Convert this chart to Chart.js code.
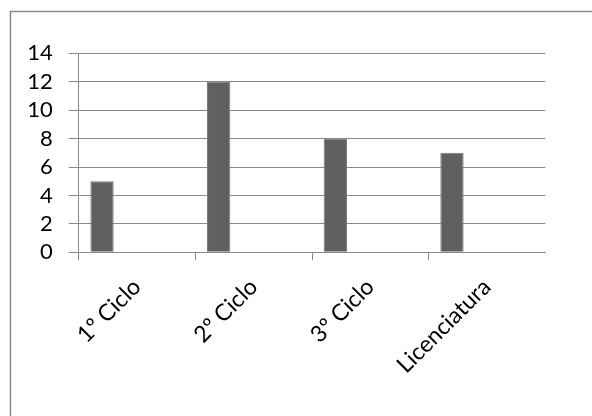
<!DOCTYPE html>
<html>
<head>
<meta charset="utf-8">
<script src="https://cdn.jsdelivr.net/npm/chart.js@4"></script>
<style>
  html, body { margin: 0; padding: 0; background: #fff; }
  #wrap { width: 592px; height: 416px; position: relative; }
</style>
</head>
<body>
<div id="wrap"><canvas id="c" width="592" height="416"></canvas></div>
<script>
const categories = ["1º Ciclo", "2º Ciclo", "3º Ciclo", "Licenciatura"];
const values = [5, 12, 8, 7];
const emptySeries1 = [];
const emptySeries2 = [];
const emptySeries3 = [];
const yMin = 0, yMax = 14, yStep = 2;

const FONT = "Lato";
const GRID = "#8a8a8a";

const framePlugin = {
  id: 'frame',
  afterDraw(chart) {
    const ctx = chart.ctx;
    ctx.save();
    ctx.strokeStyle = GRID;
    ctx.lineWidth = 1.5;
    ctx.beginPath();
    ctx.moveTo(10.5, 416);
    ctx.lineTo(10.5, 11.5);
    ctx.lineTo(592, 11.5);
    ctx.stroke();
    ctx.restore();
  }
};

new Chart(document.getElementById('c'), {
  type: 'bar',
  data: {
    labels: categories,
    datasets: [
      { data: values, backgroundColor: '#606060', borderColor: '#7a7a7a', borderWidth: 1 },
      { data: emptySeries1, backgroundColor: '#606060' },
      { data: emptySeries2, backgroundColor: '#606060' },
      { data: emptySeries3, backgroundColor: '#606060' }
    ]
  },
  options: {
    responsive: false,
    animation: false,
    devicePixelRatio: 1,
    layout: { padding: { left: 0, right: 46.7, top: 53.3, bottom: 0 } },
    datasets: { bar: { categoryPercentage: 0.8, barPercentage: 1.0 } },
    plugins: { legend: { display: false }, tooltip: { enabled: false } },
    scales: {
      x: {
        offset: true,
        grid: {
          display: true,
          drawOnChartArea: false,
          drawTicks: true,
          tickLength: 8,
          lineWidth: 1,
          color: (c) => c.type === 'tick' ? GRID : 'rgba(0,0,0,0)'
        },
        border: { display: true, color: GRID, width: 1 },
        ticks: {
          color: '#000',
          font: { family: FONT, size: 23 },
          minRotation: 45,
          maxRotation: 45,
          padding: 13,
          autoSkip: false
        },
        afterFit: (s) => { s.height = 416 - 252.3; }
      },
      y: {
        min: yMin,
        max: yMax,
        grid: { color: GRID, lineWidth: 1, tickLength: 10, drawTicks: true },
        border: { display: true, color: GRID, width: 1 },
        ticks: {
          stepSize: yStep,
          autoSkip: false,
          color: '#000',
          font: { family: FONT, size: 22 },
          padding: 16
        },
        afterFit: (s) => { s.width = 78.7; }
      }
    }
  },
  plugins: [framePlugin]
});
</script>
</body>
</html>
